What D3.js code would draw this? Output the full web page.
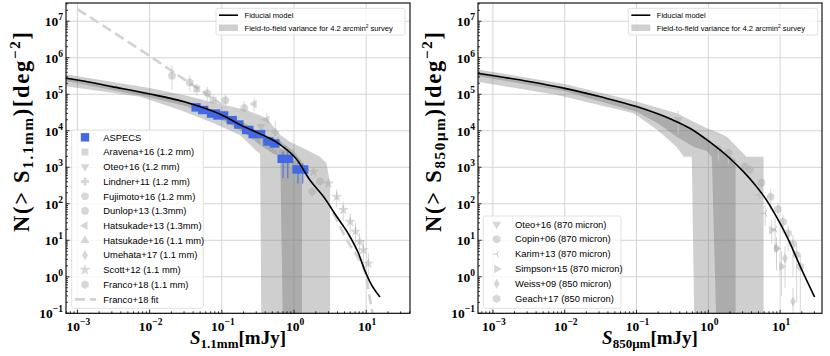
<!DOCTYPE html>
<html>
<head>
<meta charset="utf-8">
<script src="https://cdn.jsdelivr.net/npm/d3@7"></script>
<style>
body { margin: 0; background: #fff; }
svg { display: block; }
.tick-label { font-family: "Liberation Serif", serif; font-weight: bold; fill: #000; }
.axis-title { font-family: "Liberation Serif", serif; font-weight: bold; fill: #000; }
.legend-text { font-family: "Liberation Sans", sans-serif; fill: #000; }
</style>
</head>
<body>
<svg id="chart" width="830" height="356"></svg>
<script>

// ---- fiducial model, 1.1 mm (left panel)
var model11_S = [6.95e-4, 1e-3, 3e-3, 1e-2, 3e-2, 0.1, 0.18, 0.37, 0.51, 0.65, 1.1, 1.66, 2.57, 3.9, 5.6, 7.8, 9.5, 11.2, 15.5];
var model11_N = [2.75e5, 2.45e5, 1.62e5, 1.02e5, 6.2e4, 2.7e4, 1.45e4, 7.6e3, 5.6e3, 4.1e3, 1.6e3, 447, 155, 44.7, 15.5, 4.4, 1.55, 0.74, 0.28];

// field-to-field variance, 1.1 mm: outer envelope (top edge left->right, then bottom edge right->left)
var band11_outer = [[6.95e-4, 3.55e5], [1e-2, 1.48e5], [0.0316, 9.3e4], [0.1, 5.25e4], [0.219, 3.7e4], [0.417, 2.2e4],
  [0.646, 7.6e3], [0.871, 5.0e3], [1.51, 2.95e3], [2.29, 1.95e3], [2.82, 1.29e3], [3.16, 363], [3.16, 0.01],
  [0.355, 0.01], [0.339, 2.4e3], [0.302, 2.8e3], [0.178, 7.6e3], [0.0759, 1.62e4], [0.0263, 3.7e4], [7.4e-3, 8.5e4], [6.95e-4, 1.66e5]];
var band11_inner = [[6.95e-4, 2.95e5], [1e-2, 1.1e5], [0.0316, 6.6e4], [0.1, 2.95e4], [0.2, 1.66e4], [0.355, 8.9e3],
  [0.646, 5.25e3], [1.0, 2.6e3], [1.29, 1.41e3], [1.29, 0.01],
  [0.708, 0.01], [0.646, 2.0e3], [0.513, 2.4e3], [0.339, 4.1e3], [0.2, 8.9e3], [0.1, 2.0e4], [0.0316, 4.8e4], [0.01, 8.3e4], [6.95e-4, 2.3e5]];

// Franco+18 fit
var francoFit_S = [1e-3, 0.01, 0.0316, 0.1, 0.316, 1, 2.0, 3.16, 5.62, 7.76, 10, 11.7, 13.2];
var francoFit_N = [2.14e7, 1.12e6, 2.4e5, 5.2e4, 1.05e4, 1.6e3, 282, 79, 8.9, 3.2, 1.0, 0.16, 0.05];

// ASPECS: bin low, bin high, N, N error low, N error high
var aspecs_Slo = [0.038, 0.047, 0.062, 0.076, 0.117, 0.148, 0.19, 0.234, 0.375, 0.46, 0.59, 0.95];
var aspecs_Shi = [0.051, 0.065, 0.095, 0.123, 0.162, 0.2, 0.275, 0.4, 0.52, 0.63, 0.98, 1.58];
var aspecs_N = [4.37e4, 3.7e4, 2.95e4, 2.63e4, 1.95e4, 1.48e4, 1.05e4, 8.1e3, 5.1e3, 4.5e3, 1.7e3, 870];
var aspecs_Nlo = [3.7e4, 3.1e4, 2.5e4, 2.2e4, 1.6e4, 1.2e4, 8.5e3, 6.5e3, 4.0e3, 3.5e3, 500, 360];
var aspecs_Nhi = [5.1e4, 4.4e4, 3.5e4, 3.1e4, 2.3e4, 1.8e4, 1.3e4, 9.8e3, 6.3e3, 5.6e3, 2.7e3, 1.3e3];

// literature counts at 1.1-1.3 mm: [S, N, Nlo, Nhi]
var fujimoto16 = [[0.0204, 3.2e5, 1.3e5, 6.3e5], [0.036, 2.1e5, 1.2e5, 3.3e5], [0.063, 1.07e5, 6.5e4, 1.6e5], [0.112, 6.8e4, 4e4, 1e5], [0.204, 4.2e4, 2.4e4, 6.5e4]];
var aravena16 = [[0.045, 1.4e5, 9e4, 1.9e5], [0.076, 6.9e4, 4.5e4, 9.5e4]];
var hatsukade13 = [[0.28, 5.4e4, 3.5e4, 8e4], [0.42, 2.0e4, 1.2e4, 3e4]];
var oteo16a = [[0.35, 1.3e4, 4e3, 2.5e4]];
var lindner11 = [[0.55, 9e3, 3e3, 1.8e4]];
var hatsukade16 = [[0.25, 1.1e4, 5e3, 1.8e4], [0.6, 5e3, 2e3, 8e3]];
var umehata17 = [[0.7, 2.8e3, 1.2e3, 5e3], [1.3, 1.0e3, 400, 2e3]];
var dunlop13 = [[0.9, 2.5e3, 1e3, 4e3]];
var scott12 = [[1.86, 759, 500, 1.1e3], [3.0, 363, 220, 520], [3.9, 155, 80, 250], [4.8, 68, 35, 110], [6.0, 32, 15, 55],
  [7.1, 17.4, 8, 30], [8.1, 9.1, 4, 16], [9.1, 5.4, 2, 10], [10.7, 2.3, 0.8, 4.5]];
var franco18 = [[1.78, 214, 100, 350], [2.29, 407, 250, 600]];

// ---- fiducial model, 850 micron (right panel)
var model850_S = [6.2e-4, 3.16e-3, 1e-2, 0.0316, 0.1, 0.316, 0.562, 1, 2.0, 3.16, 4.47, 6.31, 8.91, 12.6, 19.1, 30.2];
var model850_N = [3.7e5, 2.24e5, 1.45e5, 8.5e4, 4.6e4, 2.0e4, 1.15e4, 5.25e3, 1.74e3, 724, 331, 135, 43.7, 12.0, 1.9, 0.28];

var band850_outer = [[6.2e-4, 4.8e5], [0.01, 1.9e5], [0.1, 6.3e4], [0.363, 3.0e4], [0.955, 1.17e4], [1.45, 8.5e3],
  [1.82, 6.9e3], [2.51, 3.6e3], [3.39, 1.95e3], [5.89, 1.95e3], [5.89, 0.01],
  [0.646, 0.01], [0.589, 1.95e3], [0.457, 1.95e3], [0.363, 3.6e3], [0.195, 1.05e4], [0.0912, 3.0e4], [7.8e-3, 9.5e4], [6.2e-4, 2.2e5]];
var band850_inner = [[6.2e-4, 4.1e5], [0.01, 1.55e5], [0.1, 4.9e4], [0.316, 2.14e4], [1, 5.75e3], [1.58, 2.8e3], [2.4, 1.58e3], [2.4, 0.01],
  [1.32, 0.01], [1.12, 1.95e3], [0.955, 2.8e3], [0.631, 3.6e3], [0.363, 6.9e3], [0.2, 1.58e4], [0.1, 3.3e4], [0.01, 1.2e5], [6.2e-4, 3.16e5]];

// literature counts at 850-870 micron
var oteo16b = [[0.38, 2.0e4, 8e3, 3.5e4]];
var copin06 = [[1.38, 3.1e3, 1.5e3, 5e3], [1.9, 2.5e3, 1.2e3, 4e3], [3.24, 1.05e3, 500, 1.8e3], [3.8, 851, 400, 1.4e3], [5.5, 380, 200, 600], [7.4, 155, 70, 260]];
var karim13 = [[5.0, 174, 100, 280], [6.2, 55, 25, 90], [8.5, 20, 6, 40]];
var simpson15 = [[7.6, 19, 8, 35], [8.9, 6, 1.5, 12], [10.5, 1.9, 0.3, 5]];
var weiss09 = [[8.9, 6.0, 2, 12], [11.7, 3.2, 0.5, 7], [15.1, 0.21, 0.1, 0.5]];
var geach17 = [[9.3, 71, 40, 110], [11.0, 32, 15, 50], [12.9, 15.5, 5, 25], [15.1, 7.9, 1, 14], [17.0, 4.0, 0.2, 8], [19.1, 1.9, 0.1, 4]];

// axes
var xTickExps = [-3, -2, -1, 0, 1];
var yTickExps = [-1, 0, 1, 2, 3, 4, 5, 6, 7];
var yDomain = [0.1, 3.16e7];

var svg = d3.select("#chart");
var Y0 = 3, Y1 = 313.3;
var grayMark = "#a6a6a6";
var blue = "#4169e1";

function polygon(n, r, rot) {
    var pts = [];
    for (var i = 0; i < n; i++) {
        var a = rot + i * 2 * Math.PI / n;
        pts.push([r * Math.cos(a), r * Math.sin(a)]);
    }
    return "M" + pts.map(function(p) { return p[0].toFixed(2) + "," + p[1].toFixed(2); }).join("L") + "Z";
}

function marker_path(kind, r) {
    switch (kind) {
        case "square": return polygon(4, r * 1.25, Math.PI / 4);
        case "circle": return d3.symbol(d3.symbolCircle, Math.PI * r * r)();
        case "octagon": return polygon(8, r * 1.05, Math.PI / 8);
        case "hexagon": return polygon(6, r * 1.1, -Math.PI / 2);
        case "tri_down": return polygon(3, r * 1.3, Math.PI / 2);
        case "tri_up": return polygon(3, r * 1.3, -Math.PI / 2);
        case "tri_left": return polygon(3, r * 1.3, Math.PI);
        case "tri_right": return polygon(3, r * 1.3, 0);
        case "diamond": return "M0," + (-r * 1.3) + "L" + (r * 0.75) + ",0L0," + (r * 1.3) + "L" + (-r * 0.75) + ",0Z";
        case "star": return d3.symbol(d3.symbolStar, r * r * 2.6)();
        case "plus":
            var a = r, b = r * 0.38;
            return "M" + [[-b, -a], [b, -a], [b, -b], [a, -b], [a, b], [b, b], [b, a], [-b, a], [-b, b], [-a, b], [-a, -b], [-b, -b]].map(function(p) { return p.join(","); }).join("L") + "Z";
        case "tri_thin":
            return "M0,0L" + (-r) + ",0M0,0L" + (r * 0.5) + "," + (-r * 0.87) + "M0,0L" + (r * 0.5) + "," + (r * 0.87);
    }
}

function sup_label(sel, exp, anchor) {
    sel.attr("text-anchor", anchor);
    sel.append("tspan").attr("font-size", 13.5).text("10");
    sel.append("tspan").attr("font-size", 9.5).attr("dy", -6).text(exp < 0 ? "\u2212" + (-exp) : String(exp));
}

function draw_panel(p) {
    var g = svg.append("g");
    var x = d3.scaleLog().domain(p.xDomain).range([p.x0, p.x1]);
    var y = d3.scaleLog().domain(yDomain).range([Y1, Y0]);

    var clipId = "clip" + p.id;
    svg.append("clipPath").attr("id", clipId).append("rect")
        .attr("x", p.x0).attr("y", Y0).attr("width", p.x1 - p.x0).attr("height", Y1 - Y0);

    // grid
    var grid = g.append("g").attr("stroke", "#d4d4d4").attr("stroke-width", 1);
    xTickExps.forEach(function(k) {
        var xx = x(Math.pow(10, k));
        grid.append("line").attr("x1", xx).attr("x2", xx).attr("y1", Y0).attr("y2", Y1);
    });
    yTickExps.forEach(function(k) {
        var yy = y(Math.pow(10, k));
        grid.append("line").attr("x1", p.x0).attr("x2", p.x1).attr("y1", yy).attr("y2", yy);
    });

    var plot = g.append("g").attr("clip-path", "url(#" + clipId + ")");
    var line = d3.line().x(function(d) { return x(d[0]); }).y(function(d) { return y(d[1]); });
    var smooth = d3.line().x(function(d) { return x(d[0]); }).y(function(d) { return y(d[1]); }).curve(d3.curveMonotoneX);

    // variance bands
    plot.append("path").attr("d", line(p.bandOuter) + "Z").attr("fill", "#808080").attr("fill-opacity", 0.38);
    plot.append("path").attr("d", line(p.bandInner) + "Z").attr("fill", "#808080").attr("fill-opacity", 0.45);

    // fit line
    if (p.fitS) {
        plot.append("path").datum(d3.zip(p.fitS, p.fitN)).attr("d", smooth)
            .attr("fill", "none").attr("stroke", "#d2d2d2").attr("stroke-width", 2.6)
            .attr("stroke-dasharray", "10,5");
    }

    // literature points
    p.points.forEach(function(set) {
        var sg = plot.append("g");
        sg.selectAll("line").data(set.data).enter().append("line")
            .attr("x1", function(d) { return x(d[0]); }).attr("x2", function(d) { return x(d[0]); })
            .attr("y1", function(d) { return y(d[2]); }).attr("y2", function(d) { return y(d[3]); })
            .attr("stroke", "#cccccc").attr("stroke-opacity", 0.8).attr("stroke-width", 1);
        sg.selectAll("path").data(set.data).enter().append("path")
            .attr("transform", function(d) { return "translate(" + x(d[0]) + "," + y(d[1]) + ")"; })
            .attr("d", marker_path(set.kind, 3.9))
            .attr("fill", set.kind == "tri_thin" ? "none" : grayMark)
            .attr("stroke", set.kind == "tri_thin" ? grayMark : "none")
            .attr("fill-opacity", 0.45).attr("stroke-opacity", 0.6);
    });

    // ASPECS
    if (p.aspecs) {
        var ag = plot.append("g");
        p.aspecs.forEach(function(d) {
            var xa = x(d.lo), xb = x(d.hi), w = xb - xa;
            [0.35, 0.65].forEach(function(f) {
                ag.append("line").attr("x1", xa + f * w).attr("x2", xa + f * w)
                    .attr("y1", y(d.nlo)).attr("y2", y(d.nhi))
                    .attr("stroke", blue).attr("stroke-width", 1);
            });
            ag.append("rect").attr("x", xa).attr("y", y(d.n) - 4.2).attr("width", w).attr("height", 8.4)
                .attr("fill", blue);
        });
    }

    // fiducial model
    plot.append("path").datum(d3.zip(p.modelS, p.modelN)).attr("d", smooth)
        .attr("fill", "none").attr("stroke", "#000").attr("stroke-width", 1.6);

    // ticks (inward)
    var ticks = g.append("g").attr("stroke", "#000").attr("stroke-width", 0.8);
    for (var k = -4; k <= 7; k++) {
        for (var m = 1; m <= 9; m++) {
            var v = m * Math.pow(10, k);
            var len = m == 1 ? 3.5 : 2;
            if (v >= p.xDomain[0] && v <= p.xDomain[1] && k <= 1) {
                ticks.append("line").attr("x1", x(v)).attr("x2", x(v)).attr("y1", Y1).attr("y2", Y1 - len);
            }
            if (v >= yDomain[0] && v <= yDomain[1]) {
                ticks.append("line").attr("x1", p.x0).attr("x2", p.x0 + len).attr("y1", y(v)).attr("y2", y(v));
            }
        }
    }

    // frame
    g.append("rect").attr("x", p.x0).attr("y", Y0).attr("width", p.x1 - p.x0).attr("height", Y1 - Y0)
        .attr("fill", "none").attr("stroke", "#000").attr("stroke-width", 1.1);

    // tick labels
    xTickExps.forEach(function(k) {
        var t = g.append("text").attr("class", "tick-label").attr("x", x(Math.pow(10, k)) + 1).attr("y", 331);
        sup_label(t, k, "middle");
    });
    yTickExps.forEach(function(k) {
        var t = g.append("text").attr("class", "tick-label").attr("x", p.x0 - 3).attr("y", y(Math.pow(10, k)) + 5);
        sup_label(t, k, "end");
    });

    // axis titles
    var yt = g.append("text").attr("class", "axis-title").attr("text-anchor", "middle")
        .attr("transform", "translate(" + (p.x0 - 37.5) + ",132) rotate(-90)")
        .attr("font-size", 22.5).attr("textLength", 200).attr("lengthAdjust", "spacing");
    yt.append("tspan").text("N(> S");
    yt.append("tspan").attr("font-size", 15).attr("dy", 4).text(p.band);
    yt.append("tspan").attr("dy", -4).text(")[deg");
    yt.append("tspan").attr("font-size", 15).attr("dy", -8.5).text("\u22122");
    yt.append("tspan").attr("dy", 8.5).text("]");

    var xt = g.append("text").attr("class", "axis-title").attr("text-anchor", "middle")
        .attr("x", (p.x0 + p.x1) / 2).attr("y", 344).attr("font-size", 19);
    xt.append("tspan").attr("font-style", "italic").text("S");
    xt.append("tspan").attr("font-size", 13).attr("dy", 3.5).text(p.band);
    xt.append("tspan").attr("dy", -3.5).text("[mJy]");

    // top legend
    var lg = g.append("g");
    lg.append("rect").attr("x", p.legTop[0]).attr("y", 8.3).attr("width", p.legTop[1] - p.legTop[0]).attr("height", 26.7)
        .attr("rx", 2).attr("fill", "#fff").attr("fill-opacity", 0.8).attr("stroke", "#d9d9d9").attr("stroke-width", 0.8);
    var lx = p.legTop[0] + 3;
    lg.append("line").attr("x1", lx).attr("x2", lx + 19).attr("y1", 15.2).attr("y2", 15.2).attr("stroke", "#000").attr("stroke-width", 1.6);
    lg.append("rect").attr("x", lx).attr("y", 24.5).attr("width", 19).attr("height", 6.5).attr("fill", "#808080").attr("fill-opacity", 0.38);
    lg.append("text").attr("class", "legend-text").attr("x", lx + 25.5).attr("y", 17.8).attr("font-size", 7.6).text("Fiducial model");
    var lt = lg.append("text").attr("class", "legend-text").attr("x", lx + 25.5).attr("y", 30.8).attr("font-size", 7.6);
    lt.append("tspan").text("Field-to-field variance for 4.2 arcmin");
    lt.append("tspan").attr("font-size", 4.8).attr("dy", -3).text("2");
    lt.append("tspan").attr("dy", 3).text(" survey");

    // bottom legend
    var bl = p.legBottom;
    var bg = g.append("g");
    bg.append("rect").attr("x", bl.x0).attr("y", bl.y0).attr("width", bl.x1 - bl.x0).attr("height", bl.y1 - bl.y0)
        .attr("rx", 2).attr("fill", "#fff").attr("fill-opacity", 0.8).attr("stroke", "#d9d9d9").attr("stroke-width", 0.8);
    bl.entries.forEach(function(e, i) {
        var cy = bl.firstY + i * bl.step;
        if (e.kind == "dash") {
            bg.append("line").attr("x1", bl.mx - 10).attr("x2", bl.mx + 11).attr("y1", cy).attr("y2", cy)
                .attr("stroke", "#d2d2d2").attr("stroke-width", 2.6).attr("stroke-dasharray", "10,5");
        } else if (e.kind == "aspecs") {
            bg.append("rect").attr("x", bl.mx - 4.2).attr("y", cy - 4.2).attr("width", 8.4).attr("height", 8.4).attr("fill", blue);
        } else {
            bg.append("path").attr("transform", "translate(" + bl.mx + "," + cy + ")")
                .attr("d", marker_path(e.kind, 3.9))
                .attr("fill", e.kind == "tri_thin" ? "none" : grayMark)
                .attr("stroke", e.kind == "tri_thin" ? grayMark : "none")
                .attr("fill-opacity", 0.45).attr("stroke-opacity", 0.6);
        }
        bg.append("text").attr("class", "legend-text").attr("x", bl.tx).attr("y", cy + 3.3)
            .attr("font-size", 9.4).text(e.label);
    });
}

draw_panel({
    id: "L", x0: 66, x1: 410, xDomain: [6.95e-4, 40.4], band: "1.1mm",
    modelS: model11_S, modelN: model11_N,
    bandOuter: band11_outer, bandInner: band11_inner,
    fitS: francoFit_S, fitN: francoFit_N,
    points: [
        {kind: "octagon", data: fujimoto16}, {kind: "square", data: aravena16}, {kind: "tri_left", data: hatsukade13},
        {kind: "tri_down", data: oteo16a}, {kind: "plus", data: lindner11}, {kind: "tri_up", data: hatsukade16},
        {kind: "diamond", data: umehata17}, {kind: "circle", data: dunlop13}, {kind: "star", data: scott12},
        {kind: "hexagon", data: franco18}
    ],
    aspecs: aspecs_N.map(function(n, i) {
        return {lo: aspecs_Slo[i], hi: aspecs_Shi[i], n: n, nlo: aspecs_Nlo[i], nhi: aspecs_Nhi[i]};
    }),
    legTop: [216, 405],
    legBottom: {x0: 71.7, x1: 203.3, y0: 130, y1: 308.3, mx: 85, tx: 103.3, firstY: 137.3, step: 14.73,
        entries: [
            {label: "ASPECS", kind: "aspecs"},
            {label: "Aravena+16 (1.2 mm)", kind: "square"},
            {label: "Oteo+16 (1.2 mm)", kind: "tri_down"},
            {label: "Lindner+11 (1.2 mm)", kind: "plus"},
            {label: "Fujimoto+16 (1.2 mm)", kind: "octagon"},
            {label: "Dunlop+13 (1.3mm)", kind: "circle"},
            {label: "Hatsukade+13 (1.3mm)", kind: "tri_left"},
            {label: "Hatsukade+16 (1.1 mm)", kind: "tri_up"},
            {label: "Umehata+17 (1.1 mm)", kind: "diamond"},
            {label: "Scott+12 (1.1 mm)", kind: "star"},
            {label: "Franco+18 (1.1 mm)", kind: "hexagon"},
            {label: "Franco+18 fit", kind: "dash"}
        ]}
});

draw_panel({
    id: "R", x0: 478, x1: 822, xDomain: [6.2e-4, 38.3], band: "850\u03bcm",
    modelS: model850_S, modelN: model850_N,
    bandOuter: band850_outer, bandInner: band850_inner,
    points: [
        {kind: "tri_down", data: oteo16b}, {kind: "octagon", data: copin06}, {kind: "tri_thin", data: karim13},
        {kind: "tri_right", data: simpson15}, {kind: "diamond", data: weiss09}, {kind: "hexagon", data: geach17}
    ],
    legTop: [628.3, 817.7],
    legBottom: {x0: 483.3, x1: 621, y0: 216, y1: 308.3, mx: 496.7, tx: 515, firstY: 224.3, step: 14.88,
        entries: [
            {label: "Oteo+16 (870 micron)", kind: "tri_down"},
            {label: "Copin+06 (870 micron)", kind: "octagon"},
            {label: "Karim+13 (870 micron)", kind: "tri_thin"},
            {label: "Simpson+15 (870 micron)", kind: "tri_right"},
            {label: "Weiss+09 (850 micron)", kind: "diamond"},
            {label: "Geach+17 (850 micron)", kind: "hexagon"}
        ]}
});
</script>
</body>
</html>
